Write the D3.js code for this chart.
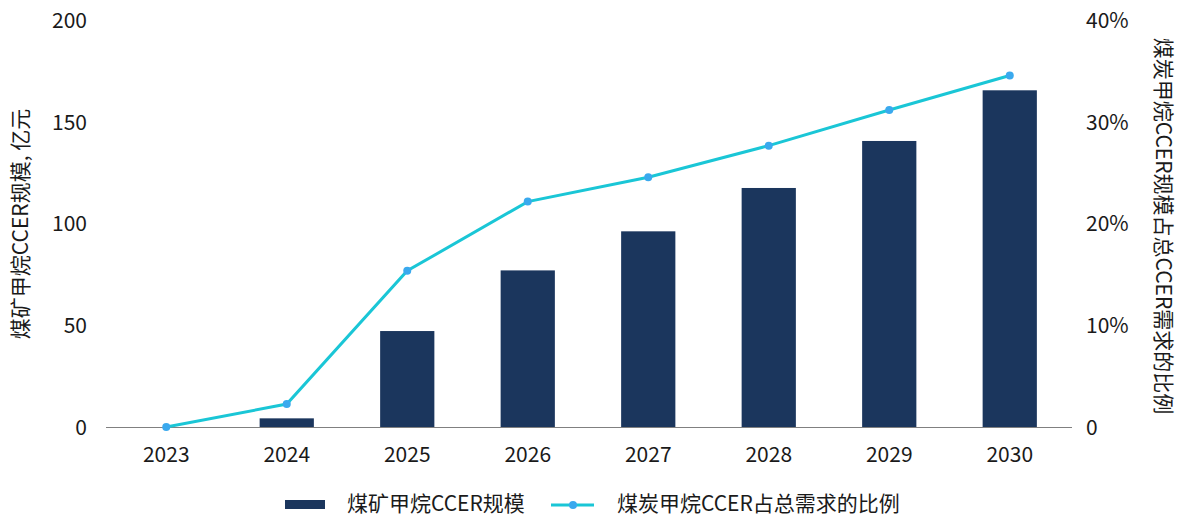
<!DOCTYPE html>
<html>
<head>
<meta charset="utf-8">
<script src="https://cdn.jsdelivr.net/npm/d3@7"></script>
<style>
  html, body { margin: 0; padding: 0; background: #fff; }
  svg { display: block; font-family: "Noto Sans CJK SC", "Noto Sans", sans-serif; }
</style>
</head>
<body>
<svg id="chart" width="1178" height="516"></svg>
<script>
// Years on the x axis
const years = ["2023", "2024", "2025", "2026", "2027", "2028", "2029", "2030"];
// Coal-mine methane CCER scale, 100 million yuan
const scaleValues = [0, 4.5, 47.4, 77.2, 96.4, 117.7, 140.8, 165.7];
// Share of total CCER demand, percent
const shareValues = [0.05, 2.3, 15.4, 22.2, 24.6, 27.7, 31.2, 34.6];
// Axis ticks
const leftTicks = [0, 50, 100, 150, 200];
const rightTicks = [0, 10, 20, 30, 40];
const rightTickLabels = ["0", "10%", "20%", "30%", "40%"];

const barColor = "#1b365d";
const lineColor = "#1ac6d6";
const dotColor = "#3aa9ee";

const svg = d3.select("#chart");
const margin = { left: 106, right: 108, top: 20.5, bottom: 88.5 };
const W = 1178, H = 516;

const x = d3.scaleBand().domain(years)
  .range([margin.left, W - margin.right]).paddingInner(0.55).paddingOuter(0.275);
const yL = d3.scaleLinear().domain([0, 200]).range([H - margin.bottom, margin.top]);
const yR = d3.scaleLinear().domain([0, 40]).range([H - margin.bottom, margin.top]);

// Bars
svg.append("g").selectAll("rect").data(years).join("rect")
  .attr("x", d => x(d))
  .attr("width", x.bandwidth())
  .attr("y", (d, i) => yL(scaleValues[i]))
  .attr("height", (d, i) => yL(0) - yL(scaleValues[i]))
  .attr("fill", barColor);

// Baseline
svg.append("line")
  .attr("x1", margin.left).attr("x2", W - margin.right + 2)
  .attr("y1", yL(0)).attr("y2", yL(0))
  .attr("stroke", "#808080").attr("stroke-width", 1.2);

// Left axis labels
const tickStyle = s => s.attr("font-size", 21).attr("fill", "#1a1a1a");
svg.append("g").selectAll("text").data(leftTicks).join("text")
  .attr("x", 87).attr("y", d => yL(d)).attr("dy", "0.35em")
  .attr("text-anchor", "end").call(tickStyle).text(d => d);

// Right axis labels
svg.append("g").selectAll("text").data(rightTicks).join("text")
  .attr("x", 1086).attr("y", d => yR(d)).attr("dy", "0.35em")
  .attr("text-anchor", "start").call(tickStyle).text((d, i) => rightTickLabels[i]);

// X axis labels
svg.append("g").selectAll("text").data(years).join("text")
  .attr("x", d => x(d) + x.bandwidth() / 2).attr("y", 455).attr("dy", "0.35em")
  .attr("text-anchor", "middle").call(tickStyle).text(d => d);

// Axis titles
svg.append("text")
  .attr("transform", `translate(21, ${(yL(0) + yL(200)) / 2}) rotate(-90)`)
  .attr("text-anchor", "middle").attr("dy", "0.35em").call(tickStyle)
  .text("煤矿甲烷CCER规模, 亿元");
svg.append("text")
  .attr("transform", `translate(1163, ${(yL(0) + yL(200)) / 2 + 2}) rotate(90)`)
  .attr("text-anchor", "middle").attr("dy", "0.35em").call(tickStyle)
  .text("煤炭甲烷CCER规模占总CCER需求的比例");

// Share line
const line = d3.line()
  .x((d, i) => x(years[i]) + x.bandwidth() / 2)
  .y(d => yR(d));
svg.append("path").datum(shareValues)
  .attr("d", line).attr("fill", "none")
  .attr("stroke", lineColor).attr("stroke-width", 3);
svg.append("g").selectAll("circle").data(shareValues).join("circle")
  .attr("cx", (d, i) => x(years[i]) + x.bandwidth() / 2)
  .attr("cy", d => yR(d)).attr("r", 4).attr("fill", dotColor);

// Legend
const lg = svg.append("g");
lg.append("rect").attr("x", 285).attr("y", 500).attr("width", 40).attr("height", 9).attr("fill", barColor);
lg.append("text").attr("x", 347).attr("y", 504).attr("dy", "0.35em").call(tickStyle).text("煤矿甲烷CCER规模");
lg.append("line").attr("x1", 551).attr("x2", 594).attr("y1", 505).attr("y2", 505)
  .attr("stroke", lineColor).attr("stroke-width", 3);
lg.append("circle").attr("cx", 573).attr("cy", 505).attr("r", 4).attr("fill", dotColor);
lg.append("text").attr("x", 617).attr("y", 504).attr("dy", "0.35em").call(tickStyle).text("煤炭甲烷CCER占总需求的比例");
</script>
</body>
</html>
